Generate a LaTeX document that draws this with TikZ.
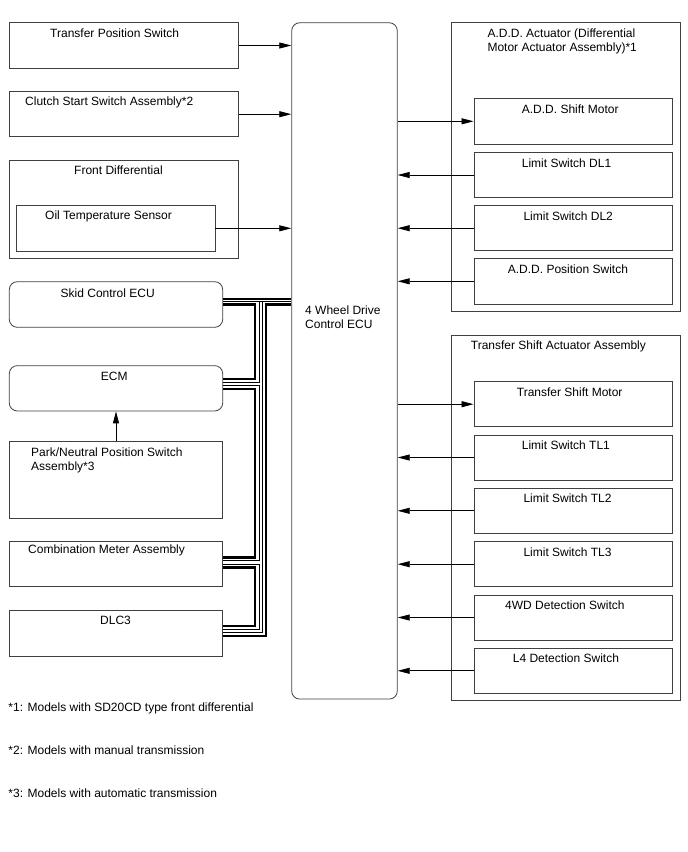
\documentclass[tikz,border=0pt]{standalone}
\usepackage{fontspec}
\setmainfont{Liberation Sans}
\usepackage{tikz}
\usetikzlibrary{arrows.meta}

\definecolor{boxgray}{HTML}{404040}

\tikzset{
  box/.style={draw=boxgray, line width=0.8pt, inner sep=0pt},
  rbox/.style={box, rounded corners=8pt},
  txt/.style={anchor=base west, inner sep=0pt},
  mtxt/.style={anchor=north west, inner sep=0pt, align=left},
  sig/.style={line width=0.8pt, -{Triangle[length=12pt,width=6pt]}},
  canhi/.style={line width=2.4pt},
  canlo/.style={line width=0.9pt}
}

\begin{document}
\begin{tikzpicture}[x=1pt, y=-1pt, font=\fontsize{12}{13.5}\selectfont]
        \useasboundingbox (0,0) rectangle (688,852);

        % left column
        \node[box, minimum width=229, minimum height=45.6] (tps) at (123.8,45.5) {};
        \node[txt] (tpsl) at (50,37.3) {Transfer Position Switch};

        \node[box, minimum width=229, minimum height=45] (css) at (123.8,114.2) {};
        \node[txt] (cssl) at (25,105.3) {Clutch Start Switch Assembly*2};

        \node[box, minimum width=229, minimum height=98] (fdiff) at (123.8,209) {};
        \node[txt] (fdiffl) at (74,174) {Front Differential};
        \node[box, minimum width=199, minimum height=46.7] (oil) at (115.5,228.3) {};
        \node[txt] (oill) at (45,219.5) {Oil Temperature Sensor};

        \node[rbox, minimum width=213.4, minimum height=45.6] (skid) at (116,304.5) {};
        \node[txt] (skidl) at (60.5,297) {Skid Control ECU};

        \node[rbox, minimum width=213.4, minimum height=45.3] (ecm) at (116,388.3) {};
        \node[txt] (ecml) at (100.7,380.7) {ECM};

        \node[box, minimum width=213.4, minimum height=76.6] (park) at (116,480) {};
        \node[mtxt] (parkl) at (31,447.8) {Park/Neutral Position Switch\\Assembly*3};

        \node[box, minimum width=213.4, minimum height=45.7] (comb) at (116,563.8) {};
        \node[txt] (combl) at (28,553.5) {Combination Meter Assembly};

        \node[box, minimum width=213.4, minimum height=46] (dlc) at (116,633) {};
        \node[txt] (dlcl) at (100,624.5) {DLC3};

        % control ecu
        \node[rbox, minimum width=105.6, minimum height=676.3] (ecu) at (344.5,360.9) {};
        \node[mtxt] (ecul) at (305,305.8) {4 Wheel Drive\\Control ECU};

        % right column
        \node[box, minimum width=229, minimum height=289] (add) at (565.5,167.2) {};
        \node[mtxt] (addl) at (487.3,28.7) {A.D.D. Actuator (Differential\\Motor Actuator Assembly)*1};
        \node[box, minimum width=198.7, minimum height=46] (sm) at (573.3,121.3) {};
        \node[txt] (sml) at (521.7,113.3) {A.D.D. Shift Motor};
        \node[box, minimum width=198.7, minimum height=45.4] (dl1) at (573.3,175) {};
        \node[txt] (dl1l) at (521.7,167.3) {Limit Switch DL1};
        \node[box, minimum width=198.7, minimum height=45] (dl2) at (573.3,228.2) {};
        \node[txt] (dl2l) at (523.3,220.7) {Limit Switch DL2};
        \node[box, minimum width=198.7, minimum height=46] (pos) at (573.3,281.3) {};
        \node[txt] (posl) at (507.7,273.3) {A.D.D. Position Switch};

        \node[box, minimum width=229, minimum height=365] (tsa) at (565.5,517.5) {};
        \node[txt] (tsal) at (470.7,349.3) {Transfer Shift Actuator Assembly};
        \node[box, minimum width=198.7, minimum height=45] (tsm) at (573.3,404.2) {};
        \node[txt] (tsml) at (516.7,396.7) {Transfer Shift Motor};
        \node[box, minimum width=198.7, minimum height=45] (tl1) at (573.3,457.5) {};
        \node[txt] (tl1l) at (521.7,449.3) {Limit Switch TL1};
        \node[box, minimum width=198.7, minimum height=45] (tl2) at (573.3,510.8) {};
        \node[txt] (tl2l) at (523.3,502.7) {Limit Switch TL2};
        \node[box, minimum width=198.7, minimum height=45] (tl3) at (573.3,564.2) {};
        \node[txt] (tl3l) at (523.3,556) {Limit Switch TL3};
        \node[box, minimum width=198.7, minimum height=45] (wd) at (573.3,617.5) {};
        \node[txt] (wdl) at (505,609.3) {4WD Detection Switch};
        \node[box, minimum width=198.7, minimum height=45] (l4) at (573.3,670.8) {};
        \node[txt] (l4l) at (512.7,662.7) {L4 Detection Switch};

        % signals
        \draw[sig] (tps.east) -- (tps.east -| ecu.west);
        \draw[sig] (css.east) -- (css.east -| ecu.west);
        \draw[sig] (oil.east) -- (oil.east -| ecu.west);
        \draw[sig] (park.north) -- (ecm.south);
        \draw[sig] (sm.west -| ecu.east) -- (sm.west);
        \draw[sig] (tsm.west -| ecu.east) -- (tsm.west);
        \foreach \n in {dl1,dl2,pos,tl1,tl2,tl3,wd,l4}
            \draw[sig] (\n.west) -- (\n.west -| ecu.east);

        % can bus
        \draw[canhi] (skid.east |- 0,299) -- (ecu.west |- 0,299);
        \draw[canlo] (skid.east |- 0,301.7) -- (ecu.west |- 0,301.7);
        \draw[canhi] (skid.east |- 0,304.3) -| (255,379) -- (ecm.east |- 0,379);
        \draw[canlo] (259,301.7) |- (ecm.east |- 0,382.3);
        \draw[canlo] (ecm.east |- 0,385.3) -| (259,560.7) -- (comb.east |- 0,560.7);
        \draw[canhi] (ecm.east |- 0,389) -| (255,557.3) -- (comb.east |- 0,557.3);
        \draw[canlo] (comb.east |- 0,564) -| (259,629.3) -- (dlc.east |- 0,629.3);
        \draw[canhi] (comb.east |- 0,567.3) -| (255,626) -- (dlc.east |- 0,626);
        \draw[canlo] (262.5,301.7) |- (dlc.east |- 0,632.7);
        \draw[canhi] (ecu.west |- 0,304.3) -| (266,636) -- (dlc.east |- 0,636);

        % notes
        \node[txt] (n1) at (8.3,711.5) {*1: Models with SD20CD type front differential};
        \node[txt] (n2) at (8.3,754.3) {*2: Models with manual transmission};
        \node[txt] (n3) at (8.3,797) {*3: Models with automatic transmission};
    \end{tikzpicture}
\end{document}
